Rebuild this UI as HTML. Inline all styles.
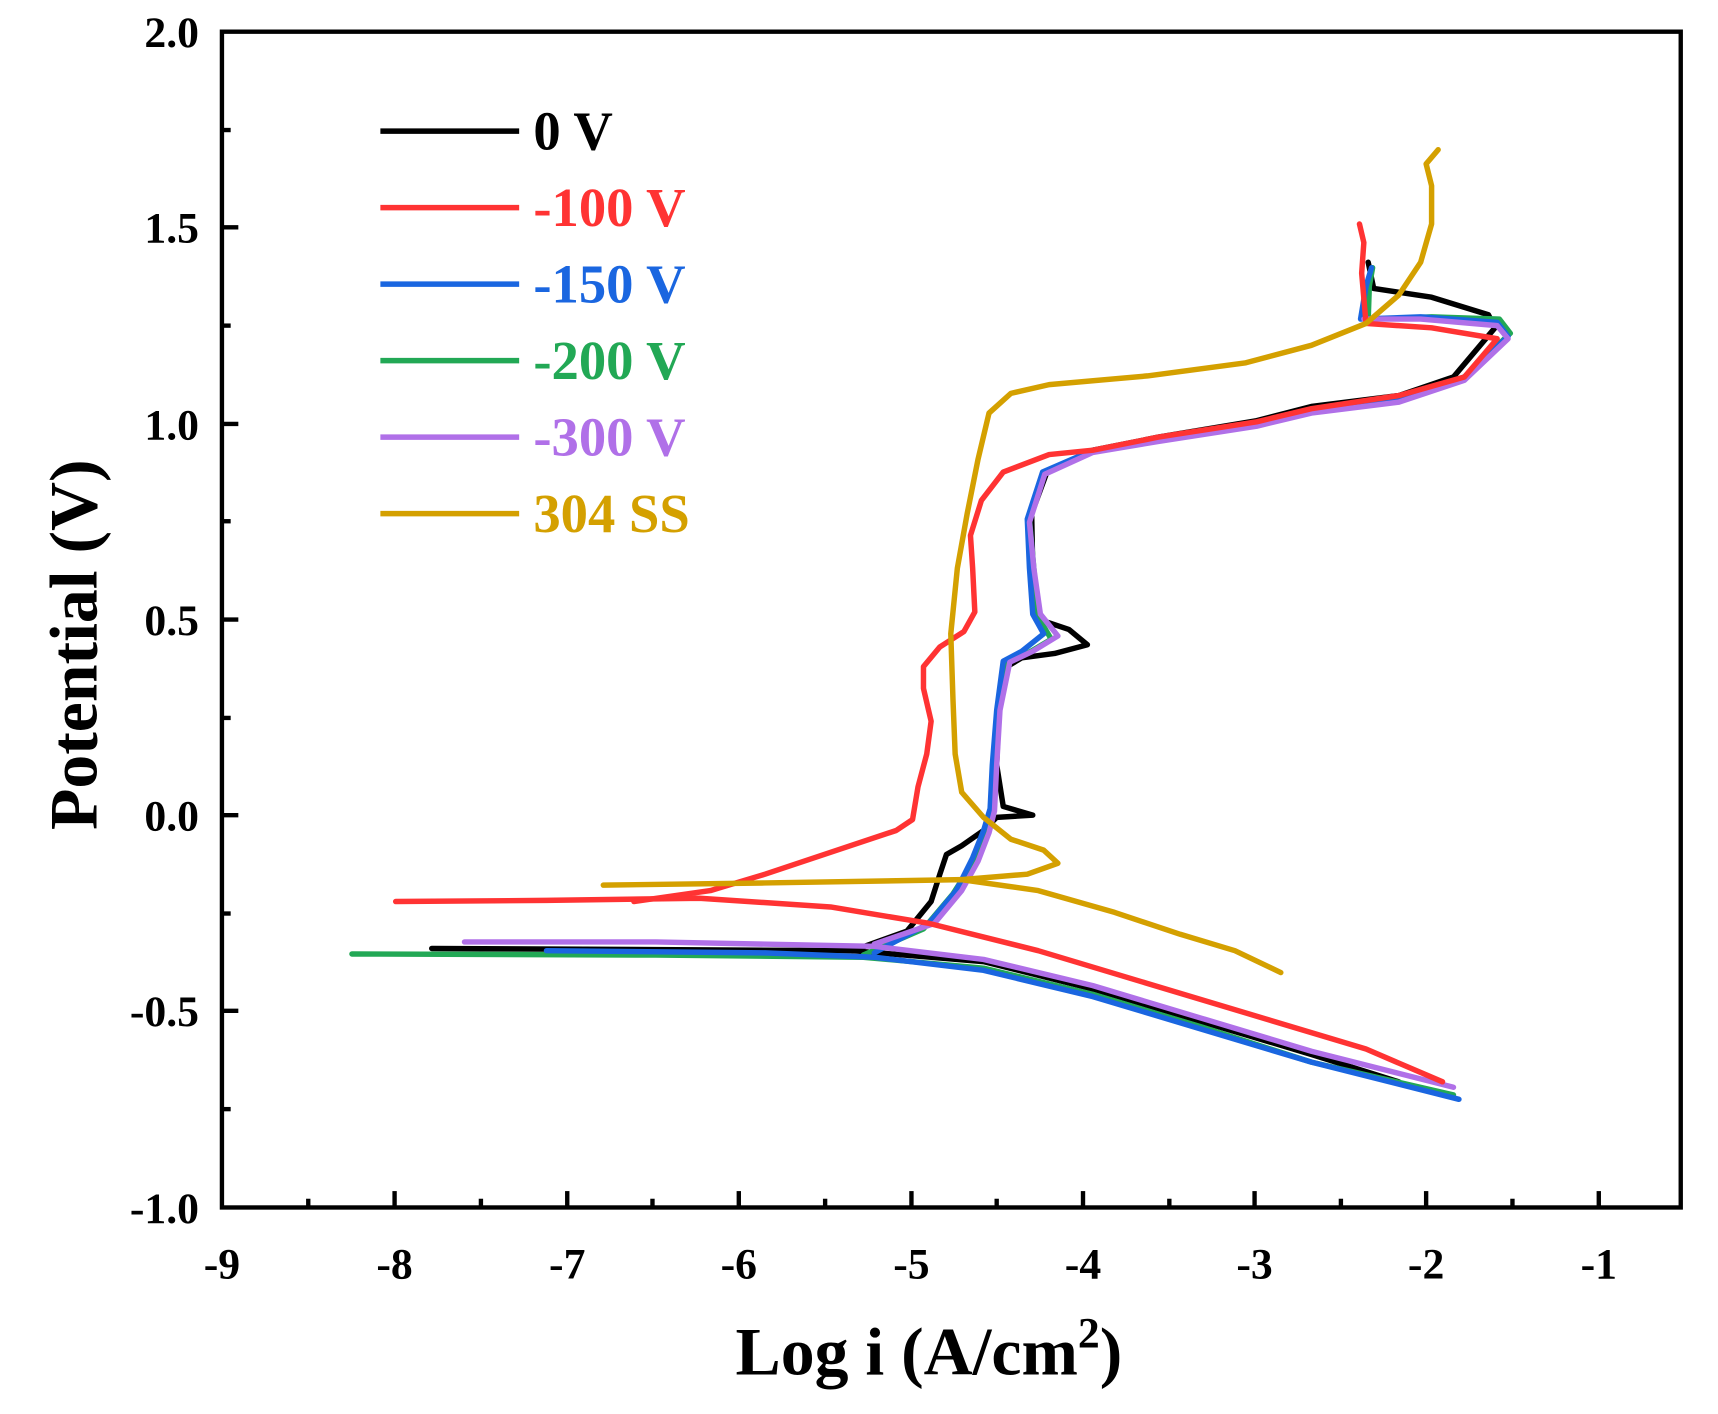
<!DOCTYPE html>
<html><head><meta charset="utf-8"><style>
html,body{margin:0;padding:0;background:#fff;}
svg{display:block;}
text{font-family:"Liberation Serif",serif;font-weight:bold;}
</style></head><body>
<svg width="1718" height="1414" viewBox="0 0 1572 1294" xmlns="http://www.w3.org/2000/svg">
<g fill="none" stroke-width="5" stroke-linejoin="round" stroke-linecap="round">
<polyline stroke="#000" points="395,868 600,869 780,870 900,880 1000,905 1100,935 1200,965 1280,990"/>
<polyline stroke="#000" points="780,870 830,852 852,825 860,800 866,782 880,774 900,760 912,748 945,746 918,738 912,700 914,650 918,612 935,602 965,598 995,590 978,576 948,566 945,520 944,470 958,432 1000,412 1060,400 1150,385 1200,372 1280,362 1330,345 1368,300 1362,288 1310,272 1257,264 1252,240"/>
<polyline stroke="#22a855" points="322,873 600,874 790,876 900,886 1000,910 1100,940 1200,972 1330,1002"/>
<polyline stroke="#22a855" points="790,874 845,850 872,818 890,790 902,762 908,740 910,700 914,650 920,605 940,598 962,585 950,565 946,520 942,475 956,432 1000,412 1060,402 1150,388 1200,376 1280,366 1340,345 1382,305 1372,292 1310,290 1252,292 1253,262 1256,245"/>
<polyline stroke="#1a66e0" points="500,870 700,872 800,876 900,888 1000,912 1100,942 1200,972 1335,1006"/>
<polyline stroke="#1a66e0" points="800,872 850,845 875,815 890,785 900,760 906,740 908,700 912,650 918,605 935,596 955,580 945,562 942,520 940,475 954,432 1000,412 1060,402 1150,388 1200,376 1280,366 1340,345 1380,308 1370,295 1300,290 1245,292 1250,262 1255,245"/>
<polyline stroke="#b070e8" points="425,862 600,862 800,866 900,878 1000,902 1100,932 1200,962 1330,995"/>
<polyline stroke="#b070e8" points="800,864 855,845 880,815 895,788 905,762 910,742 912,700 915,650 924,606 945,596 968,582 952,562 946,520 942,478 956,434 1000,414 1060,404 1150,390 1200,378 1280,368 1340,348 1380,310 1370,298 1300,292 1248,292"/>
<polyline stroke="#ff3333" points="362,825 500,824 640,822 760,830 850,845 950,870 1050,900 1150,930 1250,960 1320,990"/>
<polyline stroke="#ff3333" points="580,825 650,815 700,800 760,780 820,760 835,750 840,720 848,690 852,660 845,630 845,610 860,592 882,578 892,560 890,520 888,490 898,458 918,432 960,416 1000,412 1060,400 1150,386 1200,374 1280,362 1340,345 1370,310 1310,300 1250,296 1246,250 1248,222 1244,205"/>
<polyline stroke="#d4a000" points="552,810 700,808 880,805 950,815 1020,835 1080,855 1130,870 1172,890"/>
<polyline stroke="#d4a000" points="880,805 940,800 968,790 955,778 925,768 900,748 880,725 874,690 872,640 870,580 876,520 885,470 895,420 905,378 925,360 960,352 1050,344 1140,332 1200,316 1250,296 1280,270 1300,240 1310,205 1310,170 1305,150 1316,137"/>
</g>
<rect x="203" y="29" width="1335" height="1076" fill="none" stroke="#000" stroke-width="4"/>
<g stroke="#000" stroke-width="4">
<line x1="361" y1="1105" x2="361" y2="1090"/><line x1="519" y1="1105" x2="519" y2="1090"/>
<line x1="676" y1="1105" x2="676" y2="1090"/><line x1="834" y1="1105" x2="834" y2="1090"/>
<line x1="991" y1="1105" x2="991" y2="1090"/><line x1="1148" y1="1105" x2="1148" y2="1090"/>
<line x1="1305" y1="1105" x2="1305" y2="1090"/><line x1="1463" y1="1105" x2="1463" y2="1090"/>
<line x1="282" y1="1105" x2="282" y2="1097"/><line x1="440" y1="1105" x2="440" y2="1097"/>
<line x1="597" y1="1105" x2="597" y2="1097"/><line x1="755" y1="1105" x2="755" y2="1097"/>
<line x1="912" y1="1105" x2="912" y2="1097"/><line x1="1070" y1="1105" x2="1070" y2="1097"/>
<line x1="1227" y1="1105" x2="1227" y2="1097"/><line x1="1384" y1="1105" x2="1384" y2="1097"/>
<line x1="203" y1="208" x2="218" y2="208"/><line x1="203" y1="388" x2="218" y2="388"/>
<line x1="203" y1="567" x2="218" y2="567"/><line x1="203" y1="746" x2="218" y2="746"/>
<line x1="203" y1="925" x2="218" y2="925"/>
<line x1="203" y1="119" x2="211" y2="119"/><line x1="203" y1="298" x2="211" y2="298"/>
<line x1="203" y1="477" x2="211" y2="477"/><line x1="203" y1="657" x2="211" y2="657"/>
<line x1="203" y1="836" x2="211" y2="836"/><line x1="203" y1="1015" x2="211" y2="1015"/>
</g>
<g font-size="40" fill="#000" text-anchor="middle">
<text x="203" y="1170">-9</text><text x="361" y="1170">-8</text><text x="519" y="1170">-7</text>
<text x="676" y="1170">-6</text><text x="834" y="1170">-5</text><text x="991" y="1170">-4</text>
<text x="1148" y="1170">-3</text><text x="1305" y="1170">-2</text><text x="1463" y="1170">-1</text>
</g>
<g font-size="40" fill="#000" text-anchor="end">
<text x="182" y="43">2.0</text><text x="182" y="222">1.5</text><text x="182" y="402">1.0</text>
<text x="182" y="581">0.5</text><text x="182" y="760">0.0</text><text x="182" y="939">-0.5</text>
<text x="182" y="1119">-1.0</text>
</g>
<text x="850" y="1258" font-size="62" text-anchor="middle">Log i (A/cm<tspan font-size="40" dy="-25">2</tspan><tspan dy="25">)</tspan></text>
<text transform="translate(88,590) rotate(-90)" font-size="62" text-anchor="middle">Potential (V)</text>
<g stroke-width="5">
<line x1="348" y1="120" x2="475" y2="120" stroke="#000"/>
<line x1="348" y1="190" x2="475" y2="190" stroke="#ff3333"/>
<line x1="348" y1="260" x2="475" y2="260" stroke="#1a66e0"/>
<line x1="348" y1="330" x2="475" y2="330" stroke="#22a855"/>
<line x1="348" y1="400" x2="475" y2="400" stroke="#b070e8"/>
<line x1="348" y1="470" x2="475" y2="470" stroke="#d4a000"/>
</g>
<g font-size="50">
<text x="488" y="137" fill="#000">0 V</text>
<text x="488" y="207" fill="#ff3333">-100 V</text>
<text x="488" y="277" fill="#1a66e0">-150 V</text>
<text x="488" y="347" fill="#22a855">-200 V</text>
<text x="488" y="417" fill="#b070e8">-300 V</text>
<text x="488" y="487" fill="#d4a000">304 SS</text>
</g>
</svg>
</body></html>
